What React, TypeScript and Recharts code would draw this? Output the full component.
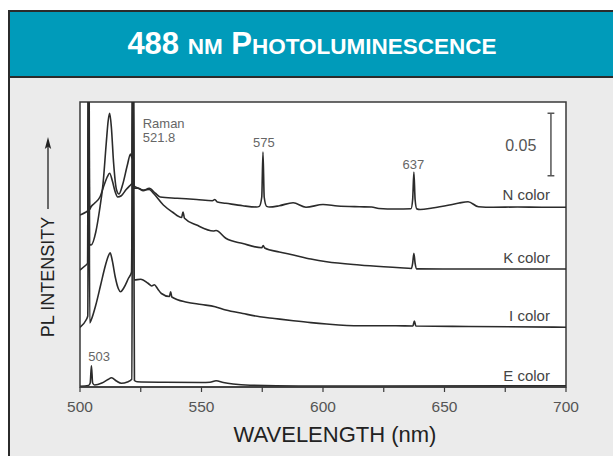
import React from 'react';
import { LineChart, Line, XAxis, YAxis, ReferenceArea, ReferenceDot, ReferenceLine } from 'recharts';

// PL spectra (488 nm excitation); each spectrum sits on its own offset.
// OFF marks peaks that run off the top of the plot (503 and the 521.8 Raman line).
const OFF = 0.3;

const nWavelength = [500, 502.5, 503.2, 503.6, 504, 504.5, 506, 508.2, 510, 511.2, 512.2, 513.3, 514.5, 515.5, 517, 519, 521, 521.5, 521.8, 522.2, 524, 526, 528.5, 531, 533, 540, 548, 554.5, 555.5, 556.5, 560, 567, 572.7, 573.8, 574.8, 575.3, 575.8, 576.8, 578, 582, 587.7, 593, 600, 606, 615, 620, 623, 630, 636.2, 636.9, 637.4, 637.9, 638.6, 640, 645, 652, 656, 659.7, 664, 670, 680, 690, 700];
const nIntensity = [0.1376, 0.14, 0.141, OFF, 0.142, 0.144, 0.147, 0.152, 0.162, 0.168, 0.171, 0.165, 0.156, 0.152, 0.153, 0.158, 0.162, 0.163, OFF, 0.159, 0.159, 0.157, 0.159, 0.155, 0.152, 0.151, 0.15, 0.149, 0.15, 0.148, 0.147, 0.145, 0.144, 0.1445, 0.152, 0.188, 0.152, 0.1445, 0.144, 0.145, 0.1474, 0.1438, 0.146, 0.1448, 0.1442, 0.144, 0.1428, 0.1424, 0.1426, 0.15, 0.172, 0.15, 0.1425, 0.142, 0.1432, 0.1456, 0.1472, 0.1482, 0.1442, 0.1438, 0.144, 0.1438, 0.1438];

const kWavelength = [500, 502, 503.1, 503.5, 503.9, 504.6, 506.5, 508, 509.5, 510.8, 511.6, 512.2, 512.9, 513.8, 515, 516, 517.5, 519.5, 520.8, 521.4, 521.8, 522.2, 524, 526, 528.5, 530.2, 534.3, 538, 541.8, 542.4, 543, 548, 554.9, 556, 560, 567, 574.8, 575.4, 576, 582, 587.8, 595, 601.5, 615, 625, 631.7, 636.4, 636.9, 637.4, 637.9, 638.6, 650, 670, 700];
const kIntensity = [0.0936, 0.0968, 0.099, OFF, 0.114, 0.1136, 0.124, 0.141, 0.163, 0.195, 0.213, 0.219, 0.208, 0.18, 0.158, 0.1544, 0.1616, 0.1776, 0.1864, 0.183, OFF, 0.161, 0.159, 0.1576, 0.158, 0.155, 0.1456, 0.14, 0.1356, 0.14, 0.135, 0.1296, 0.1248, 0.1252, 0.119, 0.1148, 0.1114, 0.1132, 0.1112, 0.108, 0.1056, 0.1024, 0.1002, 0.0976, 0.0962, 0.0954, 0.0948, 0.099, 0.107, 0.099, 0.0945, 0.0944, 0.0944, 0.0944];

const iWavelength = [500, 502.5, 503.2, 503.6, 504, 504.6, 506.5, 508.5, 510.5, 511.7, 512.4, 513.3, 514.5, 515.8, 516.7, 518, 520, 521.2, 521.8, 522.3, 525, 528, 529.5, 530.6, 532, 533.5, 536.8, 537.3, 537.8, 544, 550, 555.6, 560, 567, 574, 580, 587.8, 595, 601.5, 615, 630, 637, 637.6, 638.2, 660, 700];
const iIntensity = [0.0478, 0.0536, 0.0568, OFF, 0.0512, 0.0536, 0.0656, 0.0816, 0.0976, 0.105, 0.1074, 0.101, 0.088, 0.0786, 0.0762, 0.0792, 0.0872, 0.0918, OFF, 0.0856, 0.0862, 0.083, 0.0808, 0.0818, 0.0784, 0.0748, 0.0724, 0.0762, 0.072, 0.0678, 0.066, 0.0642, 0.0616, 0.0588, 0.0562, 0.0548, 0.053, 0.0515, 0.0504, 0.049, 0.049, 0.0488, 0.0528, 0.0488, 0.0484, 0.0478];

const eWavelength = [500, 503.5, 504.2, 504.7, 505.2, 506, 509, 511.5, 513, 515, 517, 519.5, 521.3, 521.8, 522.4, 523.5, 535, 550, 553.5, 556, 559, 563, 570, 590, 620, 700];
const eIntensity = [0.0006, 0.0012, 0.0032, 0.017, 0.0032, 0.0016, 0.0032, 0.006, 0.0074, 0.0048, 0.003, 0.004, 0.0062, OFF, 0.0052, 0.0042, 0.0038, 0.0036, 0.0038, 0.005, 0.0036, 0.0024, 0.0014, 0.0008, 0.0008, 0.001];

const xTicks = [500, 525, 550, 575, 600, 625, 650, 675, 700];
const xTickLabels = ['500', '', '550', '', '600', '', '650', '', '700'];

// 0.05 intensity scale bar
const scaleBarX = 693.8;
const scaleBarLow = 0.169;
const scaleBarHigh = 0.219;

const toPoints = (wl: number[], val: number[]) => wl.map((x, i) => ({ x, y: val[i] }));

const series = [
  { name: 'N color', points: toPoints(nWavelength, nIntensity) },
  { name: 'K color', points: toPoints(kWavelength, kIntensity) },
  { name: 'I color', points: toPoints(iWavelength, iIntensity) },
  { name: 'E color', points: toPoints(eWavelength, eIntensity) },
];

const notes = [
  { text: 'Raman', x: 525.8, y: 0.211, pos: 'right', size: 13, fill: '#666' },
  { text: '521.8', x: 525.8, y: 0.1998, pos: 'right', size: 13, fill: '#666' },
  { text: '575', x: 575.7, y: 0.1954, pos: 'center', size: 13, fill: '#666' },
  { text: '637', x: 637.2, y: 0.1784, pos: 'center', size: 13, fill: '#666' },
  { text: '503', x: 507.9, y: 0.0248, pos: 'center', size: 13, fill: '#666' },
  { text: '0.05', x: 687.8, y: 0.1936, pos: 'left', size: 16, fill: '#555' },
  { text: 'N color', x: 693.4, y: 0.154, pos: 'left', size: 15, fill: '#444' },
  { text: 'K color', x: 693.4, y: 0.1036, pos: 'left', size: 15, fill: '#444' },
  { text: 'I color', x: 693.4, y: 0.0568, pos: 'left', size: 15, fill: '#444' },
  { text: 'E color', x: 693.4, y: 0.0088, pos: 'left', size: 15, fill: '#444' },
];

const font = '"Liberation Sans", Arial, Helvetica, sans-serif';

export default function App() {
  return (
    <div style={{ position: 'absolute', left: 0, top: 0, width: 613, height: 456, overflow: 'hidden', background: '#fff', fontFamily: font }}>
      <div style={{ position: 'absolute', left: 8, top: 10, width: 640, height: 480, borderTop: '2px solid #2b2b2b', borderLeft: '2px solid #2b2b2b', background: '#ebebeb', boxSizing: 'border-box' }} />
      <div style={{ position: 'absolute', left: 10, top: 12, width: 640, height: 64, background: '#009bba', borderBottom: '2px solid #2b2b2b' }} />
      <div style={{ position: 'absolute', left: 0, top: 12, width: 624, height: 64, display: 'flex', alignItems: 'center', justifyContent: 'center', color: '#fff', fontWeight: 'bold', fontSize: 31 }}>
        <span>
          488 <span style={{ fontSize: 22.5 }}>NM</span> P<span style={{ fontSize: 22.5 }}>HOTOLUMINESCENCE</span>
        </span>
      </div>
      <div style={{ position: 'absolute', left: 80, top: 102, width: 486, height: 285, background: '#fff' }} />
      <div style={{ position: 'absolute', left: 0, top: 0 }}>
        <LineChart width={613} height={456} margin={{ top: 102, right: 47, bottom: 39, left: 80 }}>
          <XAxis
            dataKey="x"
            type="number"
            domain={[500, 700]}
            allowDataOverflow
            ticks={xTicks}
            interval={0}
            tickFormatter={(v: number) => xTickLabels[xTicks.indexOf(v)] ?? ''}
            height={30}
            tickSize={5}
            tickMargin={9}
            axisLine={{ stroke: '#3a3a3a', strokeWidth: 1.5 }}
            tickLine={{ stroke: '#3a3a3a', strokeWidth: 1.2 }}
            tick={{ fill: '#555', fontSize: 15.5, fontFamily: font }}
          />
          <YAxis type="number" domain={[0, 0.228]} allowDataOverflow hide />
          <ReferenceArea x1={500} x2={700} y1={0} y2={0.228} fill="none" stroke="#3a3a3a" strokeWidth={1.5} />
          {series.map((s) => (
            <Line
              key={s.name}
              data={s.points}
              dataKey="y"
              type="monotone"
              stroke="#2b2b2b"
              strokeWidth={1.6}
              dot={false}
              activeDot={false}
              isAnimationActive={false}
            />
          ))}
          <ReferenceLine segment={[{ x: scaleBarX, y: scaleBarLow }, { x: scaleBarX, y: scaleBarHigh }]} stroke="#555" strokeWidth={1.5} />
          <ReferenceLine segment={[{ x: scaleBarX - 1.4, y: scaleBarHigh }, { x: scaleBarX + 1.4, y: scaleBarHigh }]} stroke="#555" strokeWidth={1.5} />
          <ReferenceLine segment={[{ x: scaleBarX - 1.4, y: scaleBarLow }, { x: scaleBarX + 1.4, y: scaleBarLow }]} stroke="#555" strokeWidth={1.5} />
          {notes.map((n) => (
            <ReferenceDot
              key={n.text}
              x={n.x}
              y={n.y}
              r={0}
              fill="none"
              stroke="none"
              label={{ value: n.text, position: n.pos as any, offset: 0, fontSize: n.size, fill: n.fill, fontFamily: font }}
            />
          ))}
        </LineChart>
      </div>
      <svg width={613} height={456} style={{ position: 'absolute', left: 0, top: 0, pointerEvents: 'none' }}>
        <text transform="translate(48,277) rotate(-90)" textAnchor="middle" dy="0.35em" fontSize={18} fill="#222" fontFamily={font}>
          PL INTENSITY
        </text>
        <line x1={48} y1={209} x2={48} y2={144} stroke="#222" strokeWidth={1.3} />
        <path d="M48 137 L44.8 149 L48 146.5 L51.2 149 Z" fill="#222" />
        <text x={335} y={434} textAnchor="middle" dy="0.35em" fontSize={22} fill="#222" fontFamily={font}>
          WAVELENGTH (nm)
        </text>
      </svg>
    </div>
  );
}
